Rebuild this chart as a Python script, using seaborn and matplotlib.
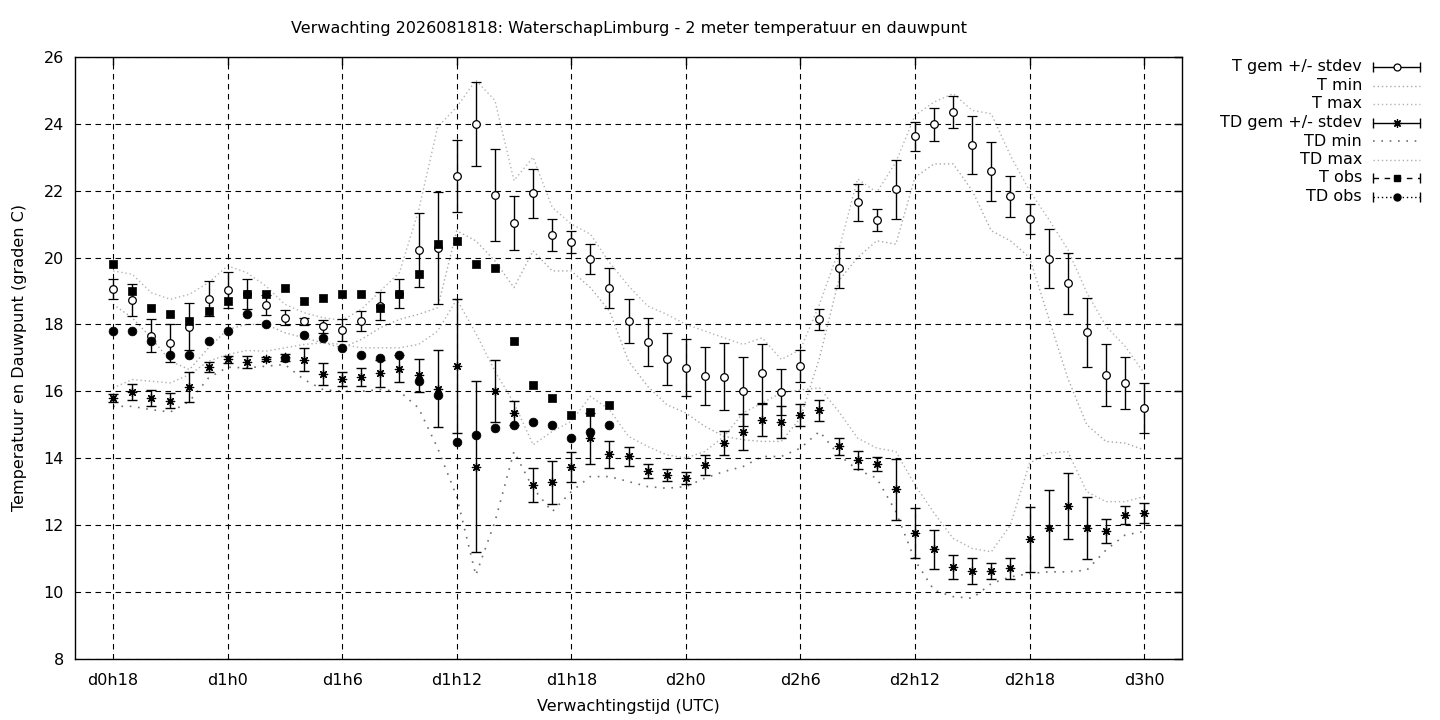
import numpy as np
import pandas as pd
import matplotlib
matplotlib.use('Agg')
import matplotlib.pyplot as plt
from matplotlib.lines import Line2D
import seaborn as sns

# ----------
# forecast hours (from d0h0) and the values
# ----------
uren = list(range(18, 73))
obs_uren = list(range(18, 45))
tick_uren = [18, 24, 30, 36, 42, 48, 54, 60, 66, 72]
tick_labels = ['d0h18', 'd1h0', 'd1h6', 'd1h12', 'd1h18', 'd2h0', 'd2h6',
               'd2h12', 'd2h18', 'd3h0']

t_gem = [19.06, 18.73, 17.66, 17.45, 17.93, 18.77, 19.03, 18.9, 18.59, 18.2,
         18.09, 17.94, 17.84, 18.1, 18.54, 18.92, 20.22, 20.28, 22.43, 24.0,
         21.86, 21.03, 21.92, 20.67, 20.46, 19.95, 19.08, 18.1, 17.47, 16.96,
         16.7, 16.46, 16.43, 16.0, 16.54, 15.97, 16.75, 18.15, 19.68, 21.65,
         21.11, 22.04, 23.62, 23.98, 24.34, 23.36, 22.58, 21.83, 21.14, 19.97,
         19.23, 17.77, 16.48, 16.24, 15.5]
t_std = [0.3, 0.47, 0.5, 0.56, 0.7, 0.53, 0.55, 0.45, 0.3, 0.22,
         0.1, 0.2, 0.33, 0.3, 0.42, 0.43, 1.1, 1.67, 1.07, 1.25,
         1.38, 0.8, 0.74, 0.48, 0.33, 0.45, 0.6, 0.67, 0.71, 0.77,
         0.85, 0.86, 1.0, 1.04, 0.88, 0.69, 0.47, 0.31, 0.6, 0.55,
         0.33, 0.88, 0.43, 0.5, 0.48, 0.87, 0.88, 0.62, 0.45, 0.88,
         0.92, 1.03, 0.92, 0.78, 0.75]
t_min = [18.6, 18.2, 17.6, 16.9, 16.65, 17.3, 17.85, 18.0, 18.0, 17.75,
         17.6, 17.45, 17.3, 17.55, 17.9, 18.15, 18.3, 18.5, 20.8, 20.5,
         19.9, 19.1, 20.2, 19.6, 19.6, 19.1, 18.4, 16.9, 16.15, 15.6,
         15.35, 14.95, 14.65, 14.55, 14.5, 14.5, 15.2, 17.0, 19.3, 20.0,
         20.5, 20.4, 22.4, 22.8, 22.8, 22.0, 20.8, 20.5, 20.0, 18.2,
         16.4, 15.0, 14.5, 14.45, 14.25]
t_max = [19.6, 19.5, 18.95, 18.75, 18.9, 19.25, 19.75, 19.55, 19.15, 18.6,
         18.35, 18.2, 18.12, 18.45, 19.0, 19.55, 21.4, 23.9, 24.5, 25.3,
         24.7, 22.3, 23.0, 21.5, 21.0, 20.7, 19.85, 19.15, 18.55, 18.3,
         18.0, 17.8, 17.6, 17.4, 17.6, 16.95, 17.25, 18.6, 20.2, 22.35,
         21.95, 22.85, 24.25, 24.65, 24.9, 24.4, 24.3, 23.05, 22.0, 21.15,
         20.25, 18.95, 17.95, 17.35, 16.55]

td_gem = [15.79, 15.97, 15.79, 15.72, 16.13, 16.73, 16.96, 16.87, 16.97, 17.02,
          16.95, 16.51, 16.36, 16.43, 16.54, 16.68, 16.48, 16.08, 16.75, 13.75,
          16.0, 15.35, 13.19, 13.28, 13.73, 14.6, 14.12, 14.06, 13.61, 13.49,
          13.4, 13.79, 14.45, 14.78, 15.15, 15.08, 15.28, 15.43, 14.35, 13.94,
          13.82, 13.07, 11.76, 11.28, 10.74, 10.62, 10.62, 10.71, 11.58, 11.91,
          12.57, 11.91, 11.82, 12.3, 12.36]
td_std = [0.12, 0.24, 0.24, 0.22, 0.44, 0.15, 0.1, 0.18, 0.05, 0.1,
          0.33, 0.33, 0.21, 0.27, 0.4, 0.4, 0.5, 1.15, 2.0, 2.55,
          0.93, 0.36, 0.51, 0.64, 0.45, 0.76, 0.4, 0.28, 0.21, 0.18,
          0.18, 0.3, 0.36, 0.53, 0.48, 0.48, 0.33, 0.32, 0.25, 0.27,
          0.2, 0.91, 0.75, 0.58, 0.36, 0.39, 0.24, 0.31, 0.97, 1.15,
          0.99, 0.94, 0.36, 0.27, 0.3]
td_min = [15.55, 15.55, 15.45, 15.38, 15.7, 16.4, 16.72, 16.7, 16.75, 16.8,
          16.35, 16.05, 16.0, 16.0, 16.05, 16.0, 15.5, 14.3, 12.85, 10.5,
          12.1, 14.2, 13.1, 12.4, 13.0, 13.45, 13.45, 13.3, 13.15, 13.1,
          13.15, 13.4, 13.6, 13.75, 14.05, 14.05, 14.3, 14.8, 14.1, 13.65,
          13.4, 12.4, 10.95, 10.05, 9.86, 9.81, 10.25, 10.45, 10.55, 10.6,
          10.6, 10.65, 11.25, 11.7, 11.81]
td_max = [16.1, 16.35, 16.3, 16.25, 16.5, 16.9, 17.1, 17.22, 17.2, 17.3,
          17.4, 17.45, 17.4, 17.3, 17.3, 17.3, 17.4, 17.8, 18.75, 17.74,
          16.6, 15.65, 14.4, 14.8, 15.1, 15.85, 15.45, 14.65, 14.35, 14.1,
          14.0, 14.2, 14.65, 15.35, 15.65, 15.95, 16.04, 16.1, 15.4, 14.6,
          14.3, 14.2, 13.2, 12.36, 11.6, 11.3, 11.2, 12.0, 13.85, 14.15,
          14.2, 13.0, 12.7, 12.7, 12.85]

t_obs = [19.8, 19.0, 18.49, 18.31, 18.1, 18.4, 18.7, 18.9, 18.9, 19.09,
         18.7, 18.8, 18.92, 18.92, 18.5, 18.9, 19.5, 20.4, 20.49, 19.8,
         19.7, 17.5, 16.18, 15.79, 15.28, 15.37, 15.58]
td_obs = [17.81, 17.8, 17.5, 17.08, 17.08, 17.5, 17.8, 18.31, 18.0, 17.01,
          17.68, 17.59, 17.29, 17.08, 16.99, 17.08, 16.3, 15.88, 14.48, 14.69,
          14.9, 14.99, 15.08, 14.99, 14.6, 14.78, 14.99]

df = pd.DataFrame({'uur': uren, 't_min': t_min, 't_max': t_max,
                   'td_min': td_min, 'td_max': td_max})

# ----------
# style
# ----------
sns.set_theme(style='white')
plt.rcParams['font.family'] = ['DejaVu Sans']
fs = 11.5
plt.rcParams['font.size'] = fs

fig, ax = plt.subplots(figsize=(14.4, 7.2), dpi=100)
fig.subplots_adjust(left=0.052, right=0.821, top=0.921, bottom=0.085)

dense = (0, (1, 2))
sparse = (0, (1, 4))
ster = (8, 2, 0)
c_tmin, c_tmax, c_tdmin, c_tdmax = '#a8a8a8', '#b4b4b4', '#707070', '#b0b0b0'

# ----------
# the series, in gnuplot order
# ----------
ax.errorbar(uren, t_gem, yerr=t_std, fmt='o', color='black', mfc='white',
            mec='black', ms=5.5, mew=0.9, capsize=3.5, elinewidth=1,
            capthick=1, zorder=3)
sns.lineplot(data=df, x='uur', y='t_min', ax=ax, color=c_tmin, lw=1,
             linestyle=dense, zorder=2)
sns.lineplot(data=df, x='uur', y='t_max', ax=ax, color=c_tmax, lw=1,
             linestyle=dense, zorder=2)
ax.errorbar(uren, td_gem, yerr=td_std, fmt='none', ecolor='black',
            capsize=3.5, elinewidth=1, capthick=1, zorder=3)
sns.scatterplot(x=uren, y=td_gem, ax=ax, marker=ster, s=36, color='black',
                linewidth=0.9, zorder=4)
sns.lineplot(data=df, x='uur', y='td_min', ax=ax, color=c_tdmin, lw=1.2,
             linestyle=sparse, zorder=2)
sns.lineplot(data=df, x='uur', y='td_max', ax=ax, color=c_tdmax, lw=1,
             linestyle=dense, zorder=2)
sns.scatterplot(x=obs_uren, y=t_obs, ax=ax, marker='s', s=36, color='black',
                edgecolor='black', linewidth=0.5, zorder=5)
sns.scatterplot(x=obs_uren, y=td_obs, ax=ax, marker='o', s=40, color='black',
                edgecolor='black', linewidth=0.5, zorder=5)

# ----------
# axes
# ----------
ax.set_xlim(16, 74)
ax.set_ylim(8, 26)
ax.set_xticks(tick_uren)
ax.set_xticklabels(tick_labels)
ax.set_yticks(np.arange(8, 27, 2))
ax.tick_params(axis='both', direction='in', length=6, width=1, color='black',
               top=True, right=True, labelsize=fs, labelcolor='black')
ax.tick_params(axis='x', pad=10)
ax.tick_params(axis='y', pad=8)
for s in ax.spines.values():
    s.set_color('black')
    s.set_linewidth(1)
ax.grid(True, color='black', linestyle=(0, (5, 4)), lw=0.8)
ax.set_axisbelow(False)

ax.set_xlabel('Verwachtingstijd (UTC)', fontsize=fs, labelpad=8, color='black')
ax.set_ylabel('Temperatuur en Dauwpunt (graden C)', fontsize=fs, labelpad=12,
              color='black')
ax.set_title('Verwachting 2026081818: WaterschapLimburg - 2 meter temperatuur en dauwpunt',
             fontsize=fs, pad=17, color='black')

# ----------
# legend, gnuplot style: text right aligned, sample to the right
# ----------
W, H = 1440.0, 720.0
lx_text, lx0, lx1 = 1362 / W, 1373 / W, 1420 / W
lxm = (lx0 + lx1) / 2
entries = [
    ('T gem +/- stdev', dict(ls='-', color='black', lw=1), True,
     dict(marker='o', mfc='white', mec='black', ms=5, mew=0.9)),
    ('T min', dict(ls=dense, color=c_tmin, lw=1), False, None),
    ('T max', dict(ls=dense, color=c_tmax, lw=1), False, None),
    ('TD gem +/- stdev', dict(ls='-', color='black', lw=1), True,
     dict(marker=ster, color='black', ms=6, mew=0.9)),
    ('TD min', dict(ls=sparse, color=c_tdmin, lw=1.2), False, None),
    ('TD max', dict(ls=dense, color=c_tdmax, lw=1), False, None),
    ('T obs', dict(ls=(0, (4, 4)), color='black', lw=1), True,
     dict(marker='s', color='black', ms=5)),
    ('TD obs', dict(ls=(0, (1, 2)), color='black', lw=1), True,
     dict(marker='o', color='black', ms=5)),
]
for i, (lab, lkw, caps, mkw) in enumerate(entries):
    y = 1 - (67 + i * 18.5) / H
    fig.text(lx_text, y, lab, ha='right', va='center', fontsize=fs,
             color='black')
    fig.add_artist(Line2D([lx0, lx1], [y, y], transform=fig.transFigure, **lkw))
    if caps:
        fig.add_artist(Line2D([lx0, lx1], [y, y], transform=fig.transFigure,
                              ls='none', marker='|', ms=7, mew=1, color='black'))
    if mkw:
        fig.add_artist(Line2D([lxm], [y], transform=fig.transFigure,
                              ls='none', **mkw))

fig.savefig('out.png', dpi=100)
